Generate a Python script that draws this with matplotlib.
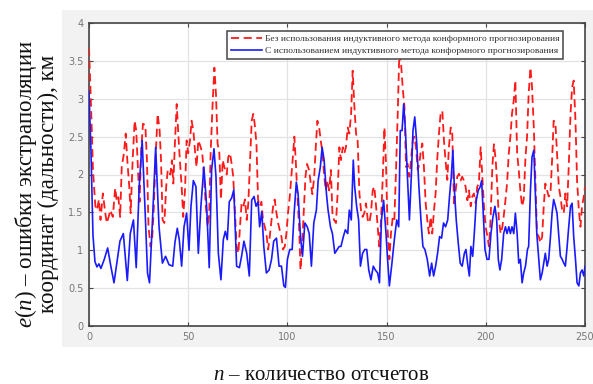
import matplotlib
matplotlib.use("Agg")
import matplotlib.pyplot as plt
from matplotlib.patches import Rectangle

# ---------------- data ----------------
n_red = [0, 1, 2, 3.2, 4, 5, 5.8, 7, 8.2, 9, 9.9, 10.7, 12, 13.2, 14, 14.8, 15.7, 16.5, 17.6, 18.5,
         19.3, 20.3, 21, 22, 23, 23.8, 24.8, 25.5, 26.3, 27.2, 28.4, 29.2, 30, 31, 31.8, 32.6, 33.8,
         34.6, 35.6, 36.3, 37.1, 38, 38.9, 39.7, 41, 41.8, 42.5, 43.3, 44.2, 45, 45.8, 46.7, 47.5,
         48.4, 49.2, 50, 50.9, 51.7, 52.6, 53.4, 54.2, 55.1, 56.3, 57.1, 58.1, 58.9, 59.8, 60.6,
         61.3, 62.3, 63.2, 64, 64.8, 65.7, 66.5, 67.4, 68.2, 69.4, 70.2, 71.1, 71.9, 72.7, 73.6,
         74.4, 75.3, 76.1, 76.9, 77.8, 78.6, 79.5, 80.3, 81.1, 82, 82.8, 83.5, 84.4, 85.2, 86, 86.9,
         87.7, 88.6, 89.4, 90.3, 91.1, 92, 92.8, 93.6, 94.5, 95.3, 96.1, 97, 97.8, 98.7, 99.5, 100.3,
         101.2, 102, 102.9, 103.5, 104.2, 105, 105.9, 106.6, 107.4, 108.2, 109.1, 109.9, 110.9,
         111.8, 112.6, 113.5, 114.3, 115.1, 116, 116.8, 117.7, 118.5, 119.3, 120.2, 121, 121.9,
         122.7, 123.5, 124.5, 125.3, 126.2, 127, 127.9, 128.7, 129.5, 130.4, 131.2, 132.1, 132.9,
         133.7, 134.6, 135.4, 136.3, 137.1, 137.9, 138.8, 139.6, 140.5, 141.3, 142.1, 143, 143.8,
         144.7, 145.5, 146.3, 147.2, 148, 148.9, 149.7, 150.5, 151.4, 152.2, 153.1, 153.9, 154.8,
         155.6, 156.4, 157.3, 158.1, 159, 159.8, 160.6, 161.5, 162.3, 163.2, 164, 164.8, 165.7,
         166.5, 167.1, 168, 168.8, 169.7, 170.5, 171.3, 172.2, 173, 173.9, 174.7, 175.5, 176.4,
         177.2, 178.1, 178.9, 179.7, 180.6, 181.4, 182.3, 183.1, 184, 184.8, 185.6, 186.5, 187.3,
         188.1, 189, 189.8, 190.7, 191.5, 192.4, 193.2, 194, 194.9, 195.7, 196.5, 197.4, 198.2,
         199.1, 199.9, 200.8, 201.6, 202.4, 203.3, 204.1, 205, 205.8, 206.6, 207.5, 208.3, 209,
         209.9, 210.7, 211.6, 212.4, 213.2, 214.1, 214.9, 215.8, 216.6, 217.4, 218.3, 219.1, 220,
         220.8, 221.6, 222.5, 223.3, 224.2, 225, 225.8, 226.7, 227.5, 228.4, 229.2, 230, 230.9,
         231.7, 232.6, 233.4, 234.2, 235.1, 235.9, 236.8, 237.6, 238.5, 239.3, 240.1, 241, 241.8,
         242.7, 243.5, 244.3, 245.2, 246, 246.9, 247.7, 248.5, 249.4, 250]
e_red = [3.67, 2.93, 2.06, 1.58, 1.53, 1.67, 1.4, 1.75, 1.49, 1.36, 1.44, 1.53, 1.44, 1.82, 1.65, 1.7,
         1.44, 2.1, 2.28, 2.54, 2.19, 1.84, 1.49, 2.19, 2.71, 2.58, 2.0, 1.64, 2.32, 2.67, 2.65, 2.19,
         1.31, 1.05, 1.14, 1.53, 2.36, 2.8, 2.58, 2.19, 1.4, 1.36, 1.84, 2.06, 2.0, 2.19, 1.88, 2.41,
         2.93, 2.54, 2.19, 1.84, 1.44, 1.8, 2.45, 2.28, 2.45, 2.71, 2.58, 2.32, 2.1, 2.45, 2.36, 2.28,
         1.92, 1.58, 1.31, 1.49, 2.28, 2.93, 3.41, 3.06, 2.41, 2.28, 1.67, 2.19, 2.1, 2.0, 2.23, 2.28,
         2.14, 1.97, 1.49, 1.05, 0.96, 1.31, 1.62, 1.58, 1.67, 1.4, 1.62, 2.14, 2.71, 2.8, 2.67, 2.41,
         1.67, 1.58, 1.64, 1.4, 1.31, 1.22, 1.01, 1.18, 1.4, 1.58, 1.67, 1.49, 1.36, 1.27, 1.18, 1.01,
         1.05, 1.22, 1.49, 1.71, 1.97, 2.28, 2.5, 2.19, 1.74, 1.31, 0.74, 1.05, 1.49, 1.97, 2.14, 2.06,
         1.88, 1.74, 1.97, 2.36, 2.71, 2.62, 2.45, 2.28, 2.0, 1.79, 1.92, 1.79, 2.06, 1.49, 1.4, 1.36,
         1.75, 2.36, 2.19, 2.36, 2.28, 2.36, 2.62, 2.54, 2.8, 3.37, 2.93, 2.54, 2.45, 1.75, 1.53, 1.44,
         1.49, 1.62, 1.4, 1.36, 1.49, 1.79, 1.84, 1.58, 1.31, 1.05, 1.4, 1.92, 2.62, 2.14, 1.27, 0.88,
         1.22, 1.44, 1.4, 2.1, 2.8, 3.59, 3.46, 3.15, 2.89, 2.1, 2.14, 1.97, 2.19, 2.45, 2.5, 2.36,
         2.06, 2.14, 2.28, 2.41, 2.1, 1.62, 1.4, 1.22, 1.44, 1.22, 1.53, 1.75, 2.19, 2.54, 2.8, 2.84,
         2.45, 2.19, 1.93, 2.36, 2.62, 2.54, 1.58, 1.79, 1.97, 2.01, 1.92, 1.97, 1.92, 1.84, 1.66,
         1.79, 1.58, 1.71, 1.75, 1.62, 1.84, 1.88, 2.36, 2.0, 1.58, 1.31, 1.18, 1.05, 1.4, 2.1, 2.4,
         2.19, 1.84, 1.4, 1.22, 1.3, 1.44, 1.66, 1.88, 2.28, 2.5, 2.8, 2.98, 3.24, 2.28, 2.06, 1.79,
         1.58, 1.67, 2.23, 2.5, 3.06, 3.41, 3.15, 2.62, 1.92, 1.22, 1.18, 1.1, 1.18, 1.58, 1.88, 1.79,
         1.71, 1.75, 2.19, 2.71, 2.67, 2.28, 1.84, 1.71, 1.53, 1.49, 1.75, 1.58, 2.1, 2.8, 3.15, 3.24,
         2.71, 1.92, 1.53, 1.31, 1.58, 1.71, 1.84]

n_blue = [0, 1, 2, 3, 4, 5, 6, 7.7, 9.4, 11, 12.6, 14.3, 15.6, 17.3, 18, 19.3, 20.8, 22.4, 23.8, 25.3,
          26.8, 28.4, 29.5, 30.5, 32, 33.6, 35.3, 37, 38.6, 40.3, 42.2, 43.3, 44.5, 45.5, 46.7, 47.9,
          49.2, 50.4, 51.4, 52.6, 53.9, 55.1, 56.4, 57.9, 59.3, 60.6, 61.8, 63, 64, 65.2, 66.5, 67.7,
          68.7, 69.7, 70.7, 71.9, 73, 74.4, 75.8, 76.9, 78.1, 79.5, 80.8, 82, 83.2, 84.2, 85.2, 86,
          87.1, 88.1, 89.4, 90.8, 92, 93.1, 94.5, 95.8, 97, 98.2, 99, 100, 101.2, 102.4, 103.4, 104.5,
          105.4, 106.6, 107.6, 108.8, 110, 111, 112.1, 113.3, 114.6, 115.5, 116.6, 117.5, 118.5,
          119.7, 120.5, 121.7, 122.7, 123.9, 125.1, 126.1, 127, 128.2, 129.2, 130.4, 131.2, 132.2,
          133.2, 133.9, 134.9, 135.9, 136.8, 137.9, 139, 140, 141, 142.1, 143.3, 144.3, 145.5, 146.4,
          147.4, 148.5, 149.7, 150.5, 151.4, 152.7, 153.9, 155.1, 156.1, 156.9, 157.8, 158.6, 159.5,
          160.5, 161.5, 162.5, 163.3, 164.2, 165.2, 166.2, 167.3, 168.3, 169.3, 170.5, 171.7, 172.7,
          173.7, 174.7, 175.7, 176.7, 177.7, 178.7, 179.7, 180.8, 181.8, 182.6, 183.4, 184.3, 185.1,
          186.1, 187.1, 188.1, 189.2, 190, 190.8, 191.7, 192.5, 193.4, 194.2, 195.2, 196.2, 197.2,
          197.9, 198.7, 199.6, 200.6, 201.6, 202.6, 203.6, 204.6, 205.5, 206.3, 207.1, 208, 209,
          209.9, 210.7, 211.6, 212.4, 213.2, 214.1, 214.9, 215.8, 216.6, 217.4, 218.3, 219.1, 220,
          221, 221.6, 222.5, 223.3, 224.2, 225, 225.7, 226.7, 227.5, 228.4, 229.2, 230, 230.9, 231.7,
          232.6, 233.4, 234.2, 235.1, 235.9, 236.8, 237.6, 238.5, 239.3, 240.1, 241, 241.8, 242.7,
          243.5, 244.3, 245.2, 246, 246.9, 247.7, 248.5, 249.4, 250]
e_blue = [3.1, 2.3, 1.2, 0.85, 0.78, 0.82, 0.76, 0.88, 1.03, 0.79, 0.57, 0.88, 1.12, 1.22, 1.0, 0.6,
          1.22, 1.4, 0.77, 1.84, 2.45, 1.44, 0.7, 0.57, 1.4, 2.36, 1.31, 0.83, 0.92, 0.81, 0.79, 1.1,
          1.29, 1.14, 0.79, 1.31, 1.49, 1.0, 1.58, 1.92, 1.84, 0.96, 1.58, 2.1, 1.58, 0.77, 2.06,
          2.34, 1.97, 0.96, 0.61, 1.14, 1.25, 1.14, 1.64, 1.69, 1.8, 0.79, 0.77, 0.92, 1.12, 0.96,
          0.66, 1.66, 1.71, 1.58, 1.64, 1.31, 1.51, 1.05, 0.7, 0.74, 0.88, 1.12, 1.16, 0.79, 0.79,
          0.53, 0.51, 0.88, 1.01, 1.01, 1.49, 1.9, 1.74, 1.18, 0.92, 1.36, 1.31, 1.22, 0.79, 1.36,
          1.53, 1.92, 2.1, 2.36, 2.19, 1.74, 1.53, 1.31, 1.22, 0.96, 1.01, 1.05, 1.05, 1.18, 1.27,
          1.22, 1.53, 1.4, 2.19, 1.84, 1.58, 1.4, 0.79, 0.96, 1.01, 1.01, 0.74, 0.61, 0.79, 0.74, 0.7,
          0.57, 1.4, 1.66, 1.22, 0.88, 0.53, 0.83, 1.14, 1.4, 1.31, 2.58, 2.58, 2.93, 2.58, 1.97, 1.4,
          2.0, 2.58, 2.76, 2.41, 1.88, 1.4, 1.05, 1.01, 0.88, 0.66, 0.83, 0.66, 0.79, 0.96, 1.18,
          1.16, 1.36, 1.31, 1.4, 1.74, 1.97, 2.32, 1.74, 1.4, 1.1, 0.83, 0.79, 0.96, 1.01, 0.83, 0.66,
          1.05, 0.92, 1.22, 1.66, 1.79, 1.84, 1.92, 1.49, 1.01, 0.88, 0.88, 1.22, 1.44, 1.58, 1.4,
          0.88, 0.74, 0.88, 1.22, 1.31, 1.22, 1.31, 1.22, 1.31, 1.22, 1.49, 1.22, 0.83, 0.88, 0.57,
          0.7, 0.79, 1.01, 1.05, 1.79, 2.23, 2.32, 1.74, 1.22, 0.88, 0.61, 0.7, 0.83, 0.96, 0.79,
          0.88, 1.18, 1.49, 1.67, 1.58, 1.49, 1.18, 0.92, 0.88, 0.83, 0.79, 1.05, 1.31, 1.58, 1.62,
          1.18, 0.88, 0.57, 0.53, 0.7, 0.74, 0.66, 0.79]

label_red = "Без использования индуктивного метода конформного прогнозирования"
label_blue = "С использованием индуктивного метода конформного прогнозирования"
xlabel = r"$n$ – количество отсчетов"
ylabel = "$e(n)$ – ошибки экстраполяции\nкоординат (дальности), км"
xticks = [0, 50, 100, 150, 200, 250]
yticks = [0, 0.5, 1, 1.5, 2, 2.5, 3, 3.5, 4]
ytick_labels = ["0", "0.5", "1", "1.5", "2", "2.5", "3", "3.5", "4"]

# ---------------- figure ----------------
plt.rcParams["mathtext.fontset"] = "custom"
plt.rcParams["mathtext.it"] = "Liberation Serif:italic"
plt.rcParams["mathtext.rm"] = "Liberation Serif"

W, H = 593, 384
fig = plt.figure(figsize=(W / 100, H / 100), dpi=100, facecolor="white")

# grey MATLAB-like panel (background axes)
bg = fig.add_axes([0, 0, 1, 1], zorder=0)
bg.set_xlim(0, W)
bg.set_ylim(H, 0)
bg.axis("off")
bg.add_patch(Rectangle((62, 10), W - 62, 337, facecolor="#f2f2f2", edgecolor="none"))

ax = fig.add_axes([89 / W, 1 - 326 / H, 496 / W, 303 / H], zorder=2)
ax.set_facecolor("white")

ax.plot(n_red, e_red, color="#ff1a1a", lw=1.3, ls=(0, (4.5, 2.5)), label=label_red, zorder=3)
ax.plot(n_blue, e_blue, color="#1a1aff", lw=1.2, ls="-", label=label_blue, zorder=4)

ax.set_xlim(0, 250)
ax.set_ylim(0, 4)
ax.set_xticks(xticks)
ax.set_yticks(yticks)
ax.set_yticklabels(ytick_labels)
ax.grid(True, color="#e3e3e3", lw=0.9)
ax.set_axisbelow(True)

for s in ax.spines.values():
    s.set_color("#454545")
    s.set_linewidth(1.2)
ax.tick_params(direction="in", top=True, right=True, length=3, width=0.8, color="#454545",
               labelsize=7, labelcolor="#777777", pad=4)
for lab in ax.get_xticklabels() + ax.get_yticklabels():
    lab.set_family("DejaVu Sans")

leg = ax.legend(loc="upper right", bbox_to_anchor=((563 - 89) / 496, (326 - 31) / 303),
                borderaxespad=0, prop={"family": "Liberation Serif", "size": 6.8},
                fancybox=False, framealpha=1, edgecolor="#454545", handlelength=3.3,
                handletextpad=0.25, borderpad=0.4, labelspacing=0.35)
leg.get_frame().set_linewidth(1.1)
for t in leg.get_texts():
    t.set_color("#333333")

fig.text(321 / W, 1 - 376 / H, xlabel, ha="center", va="center",
         family="Liberation Serif", fontsize=15, color="#111111", zorder=5)
fig.text(36 / W, 1 - 184 / H, ylabel, ha="center", va="center", rotation=90,
         family="Liberation Serif", fontsize=16.5, color="#111111", multialignment="center",
         linespacing=0.97, zorder=5)

fig.savefig("out.png", dpi=100, facecolor="white")
